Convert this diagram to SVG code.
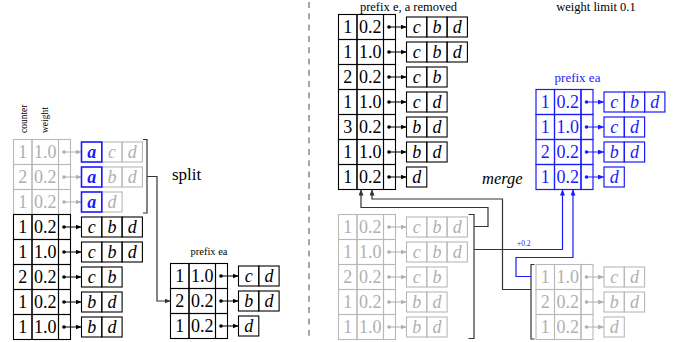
<svg xmlns="http://www.w3.org/2000/svg" width="674" height="342" viewBox="0 0 674 342" font-family="'Liberation Serif','Times New Roman',serif">
<defs>
<style>
.tk{fill:none;stroke:#000;stroke-width:1.1}
.tg{fill:none;stroke:#b8b8b8;stroke-width:1.1}
.tb{fill:none;stroke:#1a1aff;stroke-width:1.2}
.ab{fill:none;stroke:#1a1aff;stroke-width:1.6}
text{font-family:"Liberation Serif","Times New Roman",serif}
.n{font-size:18px;text-anchor:middle}
.i{font-size:18px;text-anchor:middle;font-style:italic}
.bi{font-size:18px;text-anchor:middle;font-style:italic;font-weight:bold;fill:#1a1aff}
.k{fill:#000}
.g{fill:#b0b0b0}
.b{fill:#1a1aff}
.pk{stroke:#000;stroke-width:1}
.pg{stroke:#b0b0b0;stroke-width:1}
.pb{stroke:#1a1aff;stroke-width:1}
.ck{fill:none;stroke:#333;stroke-width:1.2}
.cb{fill:none;stroke:#1a1aff;stroke-width:1.2}
.lbl{font-size:12.5px;text-anchor:middle}
</style>
<marker id="mk" viewBox="0 0 6 5" refX="6" refY="2.5" markerWidth="6" markerHeight="5" markerUnits="userSpaceOnUse" orient="auto"><path d="M0,0L6,2.5L0,5z" fill="#000"/></marker>
<marker id="mg" viewBox="0 0 6 5" refX="6" refY="2.5" markerWidth="6" markerHeight="5" markerUnits="userSpaceOnUse" orient="auto"><path d="M0,0L6,2.5L0,5z" fill="#b0b0b0"/></marker>
<marker id="mb" viewBox="0 0 6 5" refX="6" refY="2.5" markerWidth="6" markerHeight="5" markerUnits="userSpaceOnUse" orient="auto"><path d="M0,0L6,2.5L0,5z" fill="#1a1aff"/></marker>
<marker id="mc" viewBox="0 0 6 5" refX="6" refY="2.5" markerWidth="6" markerHeight="5" markerUnits="userSpaceOnUse" orient="auto"><path d="M0,0L6,2.5L0,5z" fill="#333"/></marker>
<marker id="mcb" viewBox="0 0 6 5" refX="6" refY="2.5" markerWidth="6" markerHeight="5" markerUnits="userSpaceOnUse" orient="auto"><path d="M0,0L6,2.5L0,5z" fill="#1a1aff"/></marker>
</defs>

<line x1="309" y1="2" x2="309" y2="341" stroke="#777" stroke-width="1.3" stroke-dasharray="6 5.3"/>

<!-- Left table -->
<g id="tbl-left">
<text font-size="9.5" transform="translate(26.5,133) rotate(-90)">counter</text>
<text font-size="9.5" transform="translate(47.5,133) rotate(-90)">weight</text>
<g transform="translate(13.5,139.5)">
<rect class="tg" x="0" y="0" width="18.5" height="25"/><rect class="tg" x="18.5" y="0" width="26.5" height="25"/><rect class="tg" x="45" y="0" width="12" height="25"/>
<text class="n g" x="9.25" y="18.5">1</text><text class="n g" x="31.75" y="18.5">1.0</text>
<circle class="g" cx="50.5" cy="12.5" r="1.8"/><line class="pg" x1="50.5" y1="12.5" x2="68" y2="12.5" marker-end="url(#mg)"/>
<rect class="tg" x="88.3" y="2.5" width="20.3" height="20"/><rect class="tg" x="108.6" y="2.5" width="20.3" height="20"/><rect class="ab" x="68" y="2.5" width="20.3" height="20"/>
<text class="bi" x="78.15" y="18">a</text><text class="i g" x="98.45" y="18">c</text><text class="i g" x="118.75" y="18">d</text>
</g>
<g transform="translate(13.5,164.5)">
<rect class="tg" x="0" y="0" width="18.5" height="25"/><rect class="tg" x="18.5" y="0" width="26.5" height="25"/><rect class="tg" x="45" y="0" width="12" height="25"/>
<text class="n g" x="9.25" y="18.5">2</text><text class="n g" x="31.75" y="18.5">0.2</text>
<circle class="g" cx="50.5" cy="12.5" r="1.8"/><line class="pg" x1="50.5" y1="12.5" x2="68" y2="12.5" marker-end="url(#mg)"/>
<rect class="tg" x="88.3" y="2.5" width="20.3" height="20"/><rect class="tg" x="108.6" y="2.5" width="20.3" height="20"/><rect class="ab" x="68" y="2.5" width="20.3" height="20"/>
<text class="bi" x="78.15" y="18">a</text><text class="i g" x="98.45" y="18">b</text><text class="i g" x="118.75" y="18">d</text>
</g>
<g transform="translate(13.5,189.5)">
<rect class="tg" x="0" y="0" width="18.5" height="25"/><rect class="tg" x="18.5" y="0" width="26.5" height="25"/><rect class="tg" x="45" y="0" width="12" height="25"/>
<text class="n g" x="9.25" y="18.5">1</text><text class="n g" x="31.75" y="18.5">0.2</text>
<circle class="g" cx="50.5" cy="12.5" r="1.8"/><line class="pg" x1="50.5" y1="12.5" x2="68" y2="12.5" marker-end="url(#mg)"/>
<rect class="tg" x="88.3" y="2.5" width="20.3" height="20"/><rect class="ab" x="68" y="2.5" width="20.3" height="20"/>
<text class="bi" x="78.15" y="18">a</text><text class="i g" x="98.45" y="18">d</text>
</g>
<g transform="translate(13.5,214.5)">
<rect class="tk" x="0" y="0" width="18.5" height="25"/><rect class="tk" x="18.5" y="0" width="26.5" height="25"/><rect class="tk" x="45" y="0" width="12" height="25"/>
<text class="n" x="9.25" y="18.5">1</text><text class="n" x="31.75" y="18.5">0.2</text>
<circle cx="50.5" cy="12.5" r="1.8"/><line class="pk" x1="50.5" y1="12.5" x2="68" y2="12.5" marker-end="url(#mk)"/>
<rect class="tk" x="68" y="2.5" width="20.3" height="20"/><rect class="tk" x="88.3" y="2.5" width="20.3" height="20"/><rect class="tk" x="108.6" y="2.5" width="20.3" height="20"/>
<text class="i" x="78.15" y="18">c</text><text class="i" x="98.45" y="18">b</text><text class="i" x="118.75" y="18">d</text>
</g>
<g transform="translate(13.5,239.5)">
<rect class="tk" x="0" y="0" width="18.5" height="25"/><rect class="tk" x="18.5" y="0" width="26.5" height="25"/><rect class="tk" x="45" y="0" width="12" height="25"/>
<text class="n" x="9.25" y="18.5">1</text><text class="n" x="31.75" y="18.5">1.0</text>
<circle cx="50.5" cy="12.5" r="1.8"/><line class="pk" x1="50.5" y1="12.5" x2="68" y2="12.5" marker-end="url(#mk)"/>
<rect class="tk" x="68" y="2.5" width="20.3" height="20"/><rect class="tk" x="88.3" y="2.5" width="20.3" height="20"/><rect class="tk" x="108.6" y="2.5" width="20.3" height="20"/>
<text class="i" x="78.15" y="18">c</text><text class="i" x="98.45" y="18">b</text><text class="i" x="118.75" y="18">d</text>
</g>
<g transform="translate(13.5,264.5)">
<rect class="tk" x="0" y="0" width="18.5" height="25"/><rect class="tk" x="18.5" y="0" width="26.5" height="25"/><rect class="tk" x="45" y="0" width="12" height="25"/>
<text class="n" x="9.25" y="18.5">2</text><text class="n" x="31.75" y="18.5">0.2</text>
<circle cx="50.5" cy="12.5" r="1.8"/><line class="pk" x1="50.5" y1="12.5" x2="68" y2="12.5" marker-end="url(#mk)"/>
<rect class="tk" x="68" y="2.5" width="20.3" height="20"/><rect class="tk" x="88.3" y="2.5" width="20.3" height="20"/>
<text class="i" x="78.15" y="18">c</text><text class="i" x="98.45" y="18">b</text>
</g>
<g transform="translate(13.5,289.5)">
<rect class="tk" x="0" y="0" width="18.5" height="25"/><rect class="tk" x="18.5" y="0" width="26.5" height="25"/><rect class="tk" x="45" y="0" width="12" height="25"/>
<text class="n" x="9.25" y="18.5">1</text><text class="n" x="31.75" y="18.5">0.2</text>
<circle cx="50.5" cy="12.5" r="1.8"/><line class="pk" x1="50.5" y1="12.5" x2="68" y2="12.5" marker-end="url(#mk)"/>
<rect class="tk" x="68" y="2.5" width="20.3" height="20"/><rect class="tk" x="88.3" y="2.5" width="20.3" height="20"/>
<text class="i" x="78.15" y="18">b</text><text class="i" x="98.45" y="18">d</text>
</g>
<g transform="translate(13.5,314.5)">
<rect class="tk" x="0" y="0" width="18.5" height="25"/><rect class="tk" x="18.5" y="0" width="26.5" height="25"/><rect class="tk" x="45" y="0" width="12" height="25"/>
<text class="n" x="9.25" y="18.5">1</text><text class="n" x="31.75" y="18.5">1.0</text>
<circle cx="50.5" cy="12.5" r="1.8"/><line class="pk" x1="50.5" y1="12.5" x2="68" y2="12.5" marker-end="url(#mk)"/>
<rect class="tk" x="68" y="2.5" width="20.3" height="20"/><rect class="tk" x="88.3" y="2.5" width="20.3" height="20"/>
<text class="i" x="78.15" y="18">b</text><text class="i" x="98.45" y="18">d</text>
</g>
</g>

<!-- Left prefix ea table -->
<g id="tbl-prefix-ea-left">
<text x="209" y="255" font-size="10.5" text-anchor="middle">prefix ea</text>
<g transform="translate(170.5,263.5)">
<rect class="tk" x="0" y="0" width="18.5" height="25"/><rect class="tk" x="18.5" y="0" width="26.5" height="25"/><rect class="tk" x="45" y="0" width="12" height="25"/>
<text class="n" x="9.25" y="18.5">1</text><text class="n" x="31.75" y="18.5">1.0</text>
<circle cx="50.5" cy="12.5" r="1.8"/><line class="pk" x1="50.5" y1="12.5" x2="68" y2="12.5" marker-end="url(#mk)"/>
<rect class="tk" x="68" y="2.5" width="20.3" height="20"/><rect class="tk" x="88.3" y="2.5" width="20.3" height="20"/>
<text class="i" x="78.15" y="18">c</text><text class="i" x="98.45" y="18">d</text>
</g>
<g transform="translate(170.5,288.5)">
<rect class="tk" x="0" y="0" width="18.5" height="25"/><rect class="tk" x="18.5" y="0" width="26.5" height="25"/><rect class="tk" x="45" y="0" width="12" height="25"/>
<text class="n" x="9.25" y="18.5">2</text><text class="n" x="31.75" y="18.5">0.2</text>
<circle cx="50.5" cy="12.5" r="1.8"/><line class="pk" x1="50.5" y1="12.5" x2="68" y2="12.5" marker-end="url(#mk)"/>
<rect class="tk" x="68" y="2.5" width="20.3" height="20"/><rect class="tk" x="88.3" y="2.5" width="20.3" height="20"/>
<text class="i" x="78.15" y="18">b</text><text class="i" x="98.45" y="18">d</text>
</g>
<g transform="translate(170.5,313.5)">
<rect class="tk" x="0" y="0" width="18.5" height="25"/><rect class="tk" x="18.5" y="0" width="26.5" height="25"/><rect class="tk" x="45" y="0" width="12" height="25"/>
<text class="n" x="9.25" y="18.5">1</text><text class="n" x="31.75" y="18.5">0.2</text>
<circle cx="50.5" cy="12.5" r="1.8"/><line class="pk" x1="50.5" y1="12.5" x2="68" y2="12.5" marker-end="url(#mk)"/>
<rect class="tk" x="68" y="2.5" width="20.3" height="20"/>
<text class="i" x="78.15" y="18">d</text>
</g>
</g>

<!-- Middle top table -->
<g id="tbl-prefix-e">
<text class="lbl" x="408.5" y="10.5">prefix e, a removed</text>
<g transform="translate(338.5,14.5)">
<rect class="tk" x="0" y="0" width="18.5" height="25"/><rect class="tk" x="18.5" y="0" width="26.5" height="25"/><rect class="tk" x="45" y="0" width="12" height="25"/>
<text class="n" x="9.25" y="18.5">1</text><text class="n" x="31.75" y="18.5">0.2</text>
<circle cx="50.5" cy="12.5" r="1.8"/><line class="pk" x1="50.5" y1="12.5" x2="68" y2="12.5" marker-end="url(#mk)"/>
<rect class="tk" x="68" y="2.5" width="20.3" height="20"/><rect class="tk" x="88.3" y="2.5" width="20.3" height="20"/><rect class="tk" x="108.6" y="2.5" width="20.3" height="20"/>
<text class="i" x="78.15" y="18">c</text><text class="i" x="98.45" y="18">b</text><text class="i" x="118.75" y="18">d</text>
</g>
<g transform="translate(338.5,39.5)">
<rect class="tk" x="0" y="0" width="18.5" height="25"/><rect class="tk" x="18.5" y="0" width="26.5" height="25"/><rect class="tk" x="45" y="0" width="12" height="25"/>
<text class="n" x="9.25" y="18.5">1</text><text class="n" x="31.75" y="18.5">1.0</text>
<circle cx="50.5" cy="12.5" r="1.8"/><line class="pk" x1="50.5" y1="12.5" x2="68" y2="12.5" marker-end="url(#mk)"/>
<rect class="tk" x="68" y="2.5" width="20.3" height="20"/><rect class="tk" x="88.3" y="2.5" width="20.3" height="20"/><rect class="tk" x="108.6" y="2.5" width="20.3" height="20"/>
<text class="i" x="78.15" y="18">c</text><text class="i" x="98.45" y="18">b</text><text class="i" x="118.75" y="18">d</text>
</g>
<g transform="translate(338.5,64.5)">
<rect class="tk" x="0" y="0" width="18.5" height="25"/><rect class="tk" x="18.5" y="0" width="26.5" height="25"/><rect class="tk" x="45" y="0" width="12" height="25"/>
<text class="n" x="9.25" y="18.5">2</text><text class="n" x="31.75" y="18.5">0.2</text>
<circle cx="50.5" cy="12.5" r="1.8"/><line class="pk" x1="50.5" y1="12.5" x2="68" y2="12.5" marker-end="url(#mk)"/>
<rect class="tk" x="68" y="2.5" width="20.3" height="20"/><rect class="tk" x="88.3" y="2.5" width="20.3" height="20"/>
<text class="i" x="78.15" y="18">c</text><text class="i" x="98.45" y="18">b</text>
</g>
<g transform="translate(338.5,89.5)">
<rect class="tk" x="0" y="0" width="18.5" height="25"/><rect class="tk" x="18.5" y="0" width="26.5" height="25"/><rect class="tk" x="45" y="0" width="12" height="25"/>
<text class="n" x="9.25" y="18.5">1</text><text class="n" x="31.75" y="18.5">1.0</text>
<circle cx="50.5" cy="12.5" r="1.8"/><line class="pk" x1="50.5" y1="12.5" x2="68" y2="12.5" marker-end="url(#mk)"/>
<rect class="tk" x="68" y="2.5" width="20.3" height="20"/><rect class="tk" x="88.3" y="2.5" width="20.3" height="20"/>
<text class="i" x="78.15" y="18">c</text><text class="i" x="98.45" y="18">d</text>
</g>
<g transform="translate(338.5,114.5)">
<rect class="tk" x="0" y="0" width="18.5" height="25"/><rect class="tk" x="18.5" y="0" width="26.5" height="25"/><rect class="tk" x="45" y="0" width="12" height="25"/>
<text class="n" x="9.25" y="18.5">3</text><text class="n" x="31.75" y="18.5">0.2</text>
<circle cx="50.5" cy="12.5" r="1.8"/><line class="pk" x1="50.5" y1="12.5" x2="68" y2="12.5" marker-end="url(#mk)"/>
<rect class="tk" x="68" y="2.5" width="20.3" height="20"/><rect class="tk" x="88.3" y="2.5" width="20.3" height="20"/>
<text class="i" x="78.15" y="18">b</text><text class="i" x="98.45" y="18">d</text>
</g>
<g transform="translate(338.5,139.5)">
<rect class="tk" x="0" y="0" width="18.5" height="25"/><rect class="tk" x="18.5" y="0" width="26.5" height="25"/><rect class="tk" x="45" y="0" width="12" height="25"/>
<text class="n" x="9.25" y="18.5">1</text><text class="n" x="31.75" y="18.5">1.0</text>
<circle cx="50.5" cy="12.5" r="1.8"/><line class="pk" x1="50.5" y1="12.5" x2="68" y2="12.5" marker-end="url(#mk)"/>
<rect class="tk" x="68" y="2.5" width="20.3" height="20"/><rect class="tk" x="88.3" y="2.5" width="20.3" height="20"/>
<text class="i" x="78.15" y="18">b</text><text class="i" x="98.45" y="18">d</text>
</g>
<g transform="translate(338.5,164.5)">
<rect class="tk" x="0" y="0" width="18.5" height="25"/><rect class="tk" x="18.5" y="0" width="26.5" height="25"/><rect class="tk" x="45" y="0" width="12" height="25"/>
<text class="n" x="9.25" y="18.5">1</text><text class="n" x="31.75" y="18.5">0.2</text>
<circle cx="50.5" cy="12.5" r="1.8"/><line class="pk" x1="50.5" y1="12.5" x2="68" y2="12.5" marker-end="url(#mk)"/>
<rect class="tk" x="68" y="2.5" width="20.3" height="20"/>
<text class="i" x="78.15" y="18">d</text>
</g>
</g>

<!-- Middle bottom grey table -->
<g id="tbl-mid-grey">
<g transform="translate(338.5,214.5)">
<rect class="tg" x="0" y="0" width="18.5" height="25"/><rect class="tg" x="18.5" y="0" width="26.5" height="25"/><rect class="tg" x="45" y="0" width="12" height="25"/>
<text class="n g" x="9.25" y="18.5">1</text><text class="n g" x="31.75" y="18.5">0.2</text>
<circle class="g" cx="50.5" cy="12.5" r="1.8"/><line class="pg" x1="50.5" y1="12.5" x2="68" y2="12.5" marker-end="url(#mg)"/>
<rect class="tg" x="68" y="2.5" width="20.3" height="20"/><rect class="tg" x="88.3" y="2.5" width="20.3" height="20"/><rect class="tg" x="108.6" y="2.5" width="20.3" height="20"/>
<text class="i g" x="78.15" y="18">c</text><text class="i g" x="98.45" y="18">b</text><text class="i g" x="118.75" y="18">d</text>
</g>
<g transform="translate(338.5,239.5)">
<rect class="tg" x="0" y="0" width="18.5" height="25"/><rect class="tg" x="18.5" y="0" width="26.5" height="25"/><rect class="tg" x="45" y="0" width="12" height="25"/>
<text class="n g" x="9.25" y="18.5">1</text><text class="n g" x="31.75" y="18.5">1.0</text>
<circle class="g" cx="50.5" cy="12.5" r="1.8"/><line class="pg" x1="50.5" y1="12.5" x2="68" y2="12.5" marker-end="url(#mg)"/>
<rect class="tg" x="68" y="2.5" width="20.3" height="20"/><rect class="tg" x="88.3" y="2.5" width="20.3" height="20"/><rect class="tg" x="108.6" y="2.5" width="20.3" height="20"/>
<text class="i g" x="78.15" y="18">c</text><text class="i g" x="98.45" y="18">b</text><text class="i g" x="118.75" y="18">d</text>
</g>
<g transform="translate(338.5,264.5)">
<rect class="tg" x="0" y="0" width="18.5" height="25"/><rect class="tg" x="18.5" y="0" width="26.5" height="25"/><rect class="tg" x="45" y="0" width="12" height="25"/>
<text class="n g" x="9.25" y="18.5">2</text><text class="n g" x="31.75" y="18.5">0.2</text>
<circle class="g" cx="50.5" cy="12.5" r="1.8"/><line class="pg" x1="50.5" y1="12.5" x2="68" y2="12.5" marker-end="url(#mg)"/>
<rect class="tg" x="68" y="2.5" width="20.3" height="20"/><rect class="tg" x="88.3" y="2.5" width="20.3" height="20"/>
<text class="i g" x="78.15" y="18">c</text><text class="i g" x="98.45" y="18">b</text>
</g>
<g transform="translate(338.5,289.5)">
<rect class="tg" x="0" y="0" width="18.5" height="25"/><rect class="tg" x="18.5" y="0" width="26.5" height="25"/><rect class="tg" x="45" y="0" width="12" height="25"/>
<text class="n g" x="9.25" y="18.5">1</text><text class="n g" x="31.75" y="18.5">0.2</text>
<circle class="g" cx="50.5" cy="12.5" r="1.8"/><line class="pg" x1="50.5" y1="12.5" x2="68" y2="12.5" marker-end="url(#mg)"/>
<rect class="tg" x="68" y="2.5" width="20.3" height="20"/><rect class="tg" x="88.3" y="2.5" width="20.3" height="20"/>
<text class="i g" x="78.15" y="18">b</text><text class="i g" x="98.45" y="18">d</text>
</g>
<g transform="translate(338.5,314.5)">
<rect class="tg" x="0" y="0" width="18.5" height="25"/><rect class="tg" x="18.5" y="0" width="26.5" height="25"/><rect class="tg" x="45" y="0" width="12" height="25"/>
<text class="n g" x="9.25" y="18.5">1</text><text class="n g" x="31.75" y="18.5">1.0</text>
<circle class="g" cx="50.5" cy="12.5" r="1.8"/><line class="pg" x1="50.5" y1="12.5" x2="68" y2="12.5" marker-end="url(#mg)"/>
<rect class="tg" x="68" y="2.5" width="20.3" height="20"/><rect class="tg" x="88.3" y="2.5" width="20.3" height="20"/>
<text class="i g" x="78.15" y="18">b</text><text class="i g" x="98.45" y="18">d</text>
</g>
</g>

<!-- Blue prefix ea table -->
<g id="tbl-prefix-ea-blue">
<text class="lbl" x="596" y="10.5">weight limit 0.1</text>
<text class="lbl b" x="577.5" y="82" style="font-size:13px">prefix ea</text>
<g transform="translate(536,89.5)">
<rect class="tb" x="0" y="0" width="18.5" height="25"/><rect class="tb" x="18.5" y="0" width="26.5" height="25"/><rect class="tb" x="45" y="0" width="12" height="25"/>
<text class="n b" x="9.25" y="18.5">1</text><text class="n b" x="31.75" y="18.5">0.2</text>
<circle class="b" cx="50.5" cy="12.5" r="1.8"/><line class="pb" x1="50.5" y1="12.5" x2="68" y2="12.5" marker-end="url(#mb)"/>
<rect class="tb" x="68" y="2.5" width="20.3" height="20"/><rect class="tb" x="88.3" y="2.5" width="20.3" height="20"/><rect class="tb" x="108.6" y="2.5" width="20.3" height="20"/>
<text class="i b" x="78.15" y="18">c</text><text class="i b" x="98.45" y="18">b</text><text class="i b" x="118.75" y="18">d</text>
</g>
<g transform="translate(536,114.5)">
<rect class="tb" x="0" y="0" width="18.5" height="25"/><rect class="tb" x="18.5" y="0" width="26.5" height="25"/><rect class="tb" x="45" y="0" width="12" height="25"/>
<text class="n b" x="9.25" y="18.5">1</text><text class="n b" x="31.75" y="18.5">1.0</text>
<circle class="b" cx="50.5" cy="12.5" r="1.8"/><line class="pb" x1="50.5" y1="12.5" x2="68" y2="12.5" marker-end="url(#mb)"/>
<rect class="tb" x="68" y="2.5" width="20.3" height="20"/><rect class="tb" x="88.3" y="2.5" width="20.3" height="20"/>
<text class="i b" x="78.15" y="18">c</text><text class="i b" x="98.45" y="18">d</text>
</g>
<g transform="translate(536,139.5)">
<rect class="tb" x="0" y="0" width="18.5" height="25"/><rect class="tb" x="18.5" y="0" width="26.5" height="25"/><rect class="tb" x="45" y="0" width="12" height="25"/>
<text class="n b" x="9.25" y="18.5">2</text><text class="n b" x="31.75" y="18.5">0.2</text>
<circle class="b" cx="50.5" cy="12.5" r="1.8"/><line class="pb" x1="50.5" y1="12.5" x2="68" y2="12.5" marker-end="url(#mb)"/>
<rect class="tb" x="68" y="2.5" width="20.3" height="20"/><rect class="tb" x="88.3" y="2.5" width="20.3" height="20"/>
<text class="i b" x="78.15" y="18">b</text><text class="i b" x="98.45" y="18">d</text>
</g>
<g transform="translate(536,164.5)">
<rect class="tb" x="0" y="0" width="18.5" height="25"/><rect class="tb" x="18.5" y="0" width="26.5" height="25"/><rect class="tb" x="45" y="0" width="12" height="25"/>
<text class="n b" x="9.25" y="18.5">1</text><text class="n b" x="31.75" y="18.5">0.2</text>
<circle class="b" cx="50.5" cy="12.5" r="1.8"/><line class="pb" x1="50.5" y1="12.5" x2="68" y2="12.5" marker-end="url(#mb)"/>
<rect class="tb" x="68" y="2.5" width="20.3" height="20"/>
<text class="i b" x="78.15" y="18">d</text>
</g>
</g>

<!-- Bottom right grey table -->
<g id="tbl-right-grey">
<g transform="translate(536,264.5)">
<rect class="tg" x="0" y="0" width="18.5" height="25"/><rect class="tg" x="18.5" y="0" width="26.5" height="25"/><rect class="tg" x="45" y="0" width="12" height="25"/>
<text class="n g" x="9.25" y="18.5">1</text><text class="n g" x="31.75" y="18.5">1.0</text>
<circle class="g" cx="50.5" cy="12.5" r="1.8"/><line class="pg" x1="50.5" y1="12.5" x2="68" y2="12.5" marker-end="url(#mg)"/>
<rect class="tg" x="68" y="2.5" width="20.3" height="20"/><rect class="tg" x="88.3" y="2.5" width="20.3" height="20"/>
<text class="i g" x="78.15" y="18">c</text><text class="i g" x="98.45" y="18">d</text>
</g>
<g transform="translate(536,289.5)">
<rect class="tg" x="0" y="0" width="18.5" height="25"/><rect class="tg" x="18.5" y="0" width="26.5" height="25"/><rect class="tg" x="45" y="0" width="12" height="25"/>
<text class="n g" x="9.25" y="18.5">2</text><text class="n g" x="31.75" y="18.5">0.2</text>
<circle class="g" cx="50.5" cy="12.5" r="1.8"/><line class="pg" x1="50.5" y1="12.5" x2="68" y2="12.5" marker-end="url(#mg)"/>
<rect class="tg" x="68" y="2.5" width="20.3" height="20"/><rect class="tg" x="88.3" y="2.5" width="20.3" height="20"/>
<text class="i g" x="78.15" y="18">b</text><text class="i g" x="98.45" y="18">d</text>
</g>
<g transform="translate(536,314.5)">
<rect class="tg" x="0" y="0" width="18.5" height="25"/><rect class="tg" x="18.5" y="0" width="26.5" height="25"/><rect class="tg" x="45" y="0" width="12" height="25"/>
<text class="n g" x="9.25" y="18.5">1</text><text class="n g" x="31.75" y="18.5">0.2</text>
<circle class="g" cx="50.5" cy="12.5" r="1.8"/><line class="pg" x1="50.5" y1="12.5" x2="68" y2="12.5" marker-end="url(#mg)"/>
<rect class="tg" x="68" y="2.5" width="20.3" height="20"/>
<text class="i g" x="78.15" y="18">d</text>
</g>
</g>

<!-- Connectors -->
<g id="connectors">
<path class="ck" d="M143,139.5H147V213H143"/>
<polyline class="ck" points="147,176.5 157,176.5 157,301 170.5,301" marker-end="url(#mc)"/>
<path class="ck" d="M468.5,214.5H474V338.5H468.5"/>
<polyline class="ck" points="474,226.5 488,226.5 488,207.5 361,207.5 361,189.5" marker-end="url(#mc)"/>
<path class="ck" d="M534.5,264.5H531V339H534.5"/>
<polyline class="ck" points="531,289.5 502.5,289.5 502.5,199 372,199 372,189.5" marker-end="url(#mc)"/>
<polyline class="cb" points="474,249.5 562.5,249.5 562.5,189.5" marker-end="url(#mcb)"/>
<polyline class="cb" points="531,276.5 516,276.5 516,257.5 573,257.5 573,189.5" marker-end="url(#mcb)"/>
<text class="b" x="517" y="246" font-size="7.5">+0.2</text>
<text x="172" y="180" font-size="17">split</text>
<text x="482" y="184" font-size="16.5" font-style="italic">merge</text>
</g>
</svg>
